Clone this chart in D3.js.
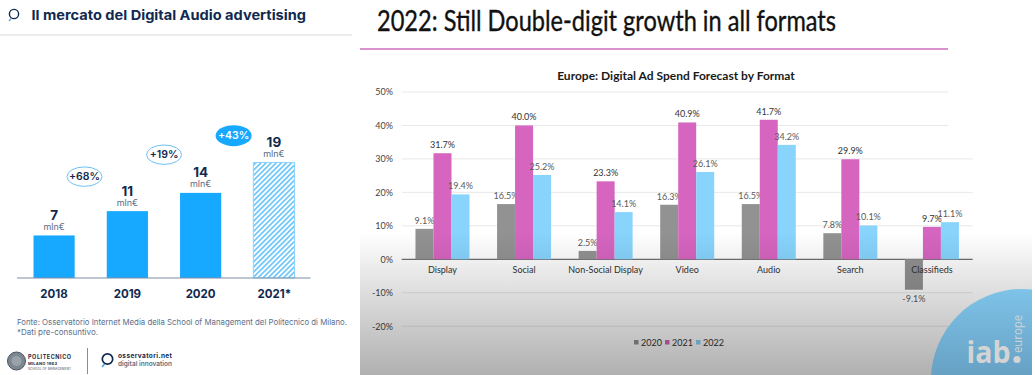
<!DOCTYPE html>
<html><head><meta charset="utf-8">
<script src="https://cdn.jsdelivr.net/npm/d3@7"></script>
<style>html,body{margin:0;padding:0;background:#fff;overflow:hidden}svg{display:block}</style>
</head><body><svg id="c" width="1035" height="375"></svg>
<script>
// Left panel data
const audioYears = ["2018","2019","2020","2021*"];
const audioValues = [7,11,14,19];
const audioGrowth = ["+68%","+19%","+43%"];
// Right panel data
const formats = ["Display","Social","Non-Social Display","Video","Audio","Search","Classifieds"];
const seriesNames = ["2020","2021","2022"];
const values2020 = [9.1,16.5,2.5,16.3,16.5,7.8,-9.1];
const values2021 = [31.7,40.0,23.3,40.9,41.7,29.9,9.7];
const values2022 = [19.4,25.2,14.1,26.1,34.2,10.1,11.1];
const yTicks = [50,40,30,20,10,0,-10,-20];
const seriesColors = ["#929292","#d665c0","#88d4fd"];

const svg = d3.select("#c");
const defs = svg.append("defs");
const L = "Lato, sans-serif", M = "Inter, sans-serif", navy = "#10294f";

const hatch = defs.append("pattern").attr("id","hatch").attr("width",3.6).attr("height",3.6)
  .attr("patternUnits","userSpaceOnUse").attr("patternTransform","rotate(45)");
hatch.append("rect").attr("width",3.6).attr("height",3.6).attr("fill","#ffffff");
hatch.append("rect").attr("width",1.7).attr("height",3.6).attr("fill","#6cc6fb");

const shade = defs.append("linearGradient").attr("id","shade").attr("x1",0).attr("x2",0).attr("y1",0).attr("y2",1);
shade.append("stop").attr("offset",0).attr("stop-color","#000").attr("stop-opacity",0);
shade.append("stop").attr("offset",1).attr("stop-color","#000").attr("stop-opacity",0.31);
const badge = defs.append("linearGradient").attr("id","badge").attr("x1",0).attr("x2",0).attr("y1",0).attr("y2",1);
badge.append("stop").attr("offset",0).attr("stop-color","#7ec3e8");
badge.append("stop").attr("offset",0.5).attr("stop-color","#659fc2");
defs.append("clipPath").attr("id","pageclip").append("rect").attr("x",0).attr("y",0).attr("width",1032).attr("height",375);

/* ---------- left panel ---------- */
const left = svg.append("g");
left.append("circle").attr("cx",14).attr("cy",14).attr("r",4.6).attr("fill","none").attr("stroke",navy).attr("stroke-width",1.4);
left.append("path").attr("d","M11.5 18 L9 21").attr("stroke","#7fa6c4").attr("stroke-width",1.4);
left.append("text").attr("x",31.5).attr("y",19.5).attr("font-family",M).attr("font-weight",700).attr("font-size",13.5)
  .attr("fill",navy).attr("textLength",274.5).attr("lengthAdjust","spacingAndGlyphs").text("Il mercato del Digital Audio advertising");
left.append("line").attr("x1",0).attr("x2",352).attr("y1",35).attr("y2",35).attr("stroke","#dcdcdc").attr("stroke-width",1.2);

const lx = d3.scaleBand().domain(audioYears).range([33.5,294.5]).paddingInner(0.438).paddingOuter(0);
const ly = d3.scaleLinear().domain([0,19]).range([278,162.5]);
left.selectAll("rect.bar").data(audioYears).join("rect").attr("class","bar")
  .attr("x",d=>lx(d)).attr("width",lx.bandwidth())
  .attr("y",(d,i)=>ly(audioValues[i])).attr("height",(d,i)=>ly(0)-ly(audioValues[i]))
  .attr("fill",(d,i)=>i===3?"url(#hatch)":"#17a9ff")
  .attr("stroke",(d,i)=>i===3?"#8fd4fc":"none").attr("stroke-width",1);
left.append("line").attr("x1",17).attr("x2",310.5).attr("y1",278).attr("y2",278).attr("stroke","#7d8ea3").attr("stroke-width",1.2);
left.selectAll("text.year").data(audioYears).join("text").attr("class","year")
  .attr("x",d=>lx(d)+lx.bandwidth()/2+(d==="2021*"?0.5:0)).attr("y",297.5).attr("text-anchor","middle")
  .attr("font-family",M).attr("font-weight",700).attr("font-size",11.5).attr("fill",navy).text(d=>d);
left.selectAll("text.val").data(audioValues).join("text").attr("class","val")
  .attr("x",(d,i)=>lx(audioYears[i])+lx.bandwidth()/2).attr("y",d=>ly(d)-15.5).attr("text-anchor","middle")
  .attr("font-family",M).attr("font-weight",700).attr("font-size",13.5).attr("fill",navy).text(d=>d);
left.selectAll("text.unit").data(audioValues).join("text").attr("class","unit")
  .attr("x",(d,i)=>lx(audioYears[i])+lx.bandwidth()/2).attr("y",d=>ly(d)-5.5).attr("text-anchor","middle")
  .attr("font-family",M).attr("font-size",9).attr("fill","#5d6b80").text("mln€");

// growth bubbles sit just left of the later bar of each pair
const bubbleDx = [-22.3,-16,-19.7], bubbleDy = [-34.5,-38.2,-26.8];
audioGrowth.forEach((g,i)=>{
  const next = audioYears[i+1];
  const cx = lx(next)+bubbleDx[i], cy = ly(audioValues[i+1])+bubbleDy[i];
  const solid = i===2;
  left.append("ellipse").attr("cx",cx).attr("cy",cy).attr("rx",i===2?18:17.5).attr("ry",i===2?10.5:9.7)
    .attr("fill",solid?"#17a9ff":"#fff").attr("stroke",solid?"none":"#6cc0f6").attr("stroke-width",1);
  left.append("text").attr("x",cx).attr("y",cy+3.7).attr("text-anchor","middle").attr("font-family",M)
    .attr("font-weight",600).attr("font-size",10.5).attr("fill",solid?"#fff":navy).text(g);
});

left.append("text").attr("x",17).attr("y",325).attr("font-family",M).attr("font-size",8.2).attr("fill","#5b6f8c")
  .attr("textLength",330).attr("lengthAdjust","spacingAndGlyphs")
  .text("Fonte: Osservatorio Internet Media della School of Management del Politecnico di Milano.");
left.append("text").attr("x",17).attr("y",335).attr("font-family",M).attr("font-size",8.2).attr("fill","#5b6f8c")
  .attr("textLength",81).attr("lengthAdjust","spacingAndGlyphs").text("*Dati pre-consuntivo.");

// logos
left.append("circle").attr("cx",16.5).attr("cy",361).attr("r",9).attr("fill","#7d8790").attr("stroke","#4b5560");
left.append("circle").attr("cx",16.5).attr("cy",361).attr("r",5).attr("fill","#99a2aa");
left.append("text").attr("x",28).attr("y",359).attr("font-family",M).attr("font-weight",700).attr("font-size",5.5).attr("fill","#1e2a3c").attr("textLength",43).text("POLITECNICO");
left.append("text").attr("x",28).attr("y",365).attr("font-family",M).attr("font-weight",700).attr("font-size",4).attr("fill","#1e2a3c").attr("textLength",29).text("MILANO 1863");
left.append("text").attr("x",28).attr("y",370).attr("font-family",M).attr("font-size",3).attr("fill","#3c4656").attr("textLength",43).text("SCHOOL OF MANAGEMENT");
left.append("line").attr("x1",87.5).attr("x2",87.5).attr("y1",348).attr("y2",374).attr("stroke","#66707e").attr("stroke-width",0.8);
left.append("circle").attr("cx",107.5).attr("cy",359).attr("r",5.2).attr("fill","none").attr("stroke",navy).attr("stroke-width",1.7);
left.append("path").attr("d","M104.5 364 L102 367").attr("stroke","#4a9fd6").attr("stroke-width",1.5);
left.append("text").attr("x",118).attr("y",357.5).attr("font-family",M).attr("font-weight",700).attr("font-size",6.5).attr("fill",navy).attr("textLength",54).text("osservatori.net");
left.append("text").attr("x",118).attr("y",366).attr("font-family",M).attr("font-weight",600).attr("font-size",6.5).attr("fill","#5f6d7f").attr("textLength",54).text("digital innovation");

/* ---------- right panel ---------- */
const right = svg.append("g").attr("clip-path","url(#pageclip)");
right.append("rect").attr("x",360).attr("y",0).attr("width",675).attr("height",375).attr("fill","#fff");
right.append("text").attr("x",377).attr("y",31).attr("font-family",L).attr("font-size",28).attr("fill","#111")
  .attr("stroke","#111").attr("stroke-width",0.35)
  .attr("textLength",459).attr("lengthAdjust","spacingAndGlyphs").text("2022: Still Double-digit growth in all formats");
right.append("line").attr("x1",360).attr("x2",948).attr("y1",49).attr("y2",49).attr("stroke","#cf6fc0").attr("stroke-width",1.6);
right.append("text").attr("x",676).attr("y",79.5).attr("text-anchor","middle").attr("font-family",L).attr("font-weight",700)
  .attr("font-size",12).attr("fill","#1a1a1a").text("Europe: Digital Ad Spend Forecast by Format");

const px = d3.scaleBand().domain(formats).range([401.7,972.7]);
const pSub = d3.scaleBand().domain(seriesNames).range([0,54]);
const pOff = (px.bandwidth()-54)/2;
const py = d3.scaleLinear().domain([-20,50]).range([326.2,92]);

right.selectAll("line.grid").data(yTicks).join("line").attr("class","grid")
  .attr("x1",401.7).attr("x2",d=>d>=40?948:972.7).attr("y1",d=>py(d)).attr("y2",d=>py(d))
  .attr("stroke",d=>d===0?"#6f6f6f":"#e8e8e8").attr("stroke-width",d=>d===0?1.2:1);

const yAxis = d3.axisLeft(py).tickValues(yTicks).tickFormat(d=>d+"%").tickSize(0).tickPadding(0);
const yg = right.append("g").attr("transform","translate(393,0)").call(yAxis);
yg.select(".domain").remove();
yg.selectAll("text").attr("font-family",L).attr("font-size",9).attr("fill","#444");

const allSeries = [values2020,values2021,values2022];
allSeries.forEach((vals,si)=>{
  const s = seriesNames[si];
  right.selectAll("rect.s"+s).data(vals).join("rect").attr("class","s"+s)
    .attr("x",(d,i)=>px(formats[i])+pOff+pSub(s)).attr("width",pSub.bandwidth())
    .attr("y",d=>py(Math.max(d,0))).attr("height",d=>Math.abs(py(d)-py(0)))
    .attr("fill",seriesColors[si]);
  right.selectAll("text.l"+s).data(vals).join("text").attr("class","l"+s)
    .attr("x",(d,i)=>px(formats[i])+pOff+pSub(s)+pSub.bandwidth()/2)
    .attr("y",d=>d<0?py(d)+12:py(d)-5).attr("text-anchor","middle")
    .attr("font-family",L).attr("font-size",9).attr("fill",si===1?"#333":"#5a5a5a")
    .text(d=>d.toFixed(1)+"%");
});
right.selectAll("text.cat").data(formats).join("text").attr("class","cat")
  .attr("x",d=>px(d)+px.bandwidth()/2).attr("y",273).attr("text-anchor","middle")
  .attr("font-family",L).attr("font-size",9).attr("fill","#333").text(d=>d);

// legend
const legendX = d3.scalePoint().domain(seriesNames).range([634,696]);
seriesNames.forEach((s,i)=>{
  right.append("rect").attr("x",legendX(s)).attr("y",340).attr("width",4.5).attr("height",4.5).attr("fill",seriesColors[i]);
  right.append("text").attr("x",legendX(s)+7).attr("y",345.5).attr("font-family",L).attr("font-size",9).attr("fill","#333").text(s);
});

// shading over the slide
right.append("rect").attr("x",360).attr("y",232).attr("width",675).attr("height",143).attr("fill","url(#shade)");

// iab badge
right.append("circle").attr("cx",1022).attr("cy",380).attr("r",91).attr("fill","url(#badge)");
right.append("text").attr("x",966.5).attr("y",363).attr("font-family","'Open Sans',sans-serif").attr("font-weight",700).attr("font-size",30).attr("fill","#d4d4d4")
  .attr("textLength",44).attr("lengthAdjust","spacingAndGlyphs").text("iab");
right.append("circle").attr("cx",1017).attr("cy",359.5).attr("r",3.6).attr("fill","#d4d4d4");
right.append("text").attr("transform","translate(1021.5,353) rotate(-90)").attr("font-family","'Open Sans',sans-serif").attr("font-size",12.5).attr("fill","#d4d4d4")
  .attr("textLength",38).attr("lengthAdjust","spacingAndGlyphs").text("europe");
</script></body></html>
